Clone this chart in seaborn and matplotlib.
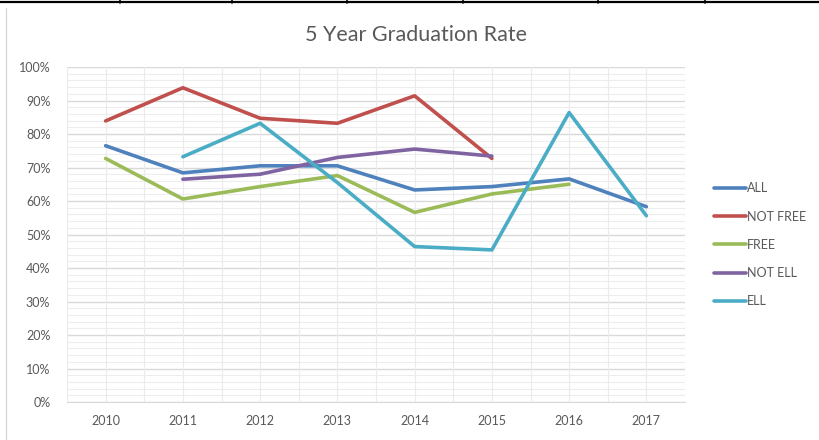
import matplotlib
matplotlib.use('Agg')
import numpy as np
import pandas as pd
from matplotlib import pyplot as plt
from matplotlib.lines import Line2D
import seaborn as sns

years = ['2010', '2011', '2012', '2013', '2014', '2015', '2016', '2017']
series_names = ['ALL', 'NOT FREE', 'FREE', 'NOT ELL', 'ELL']
all_rate = [76.5, 68.4, 70.5, 70.5, 63.3, 64.3, 66.6, 58.3]
not_free = [83.9, 93.8, 84.7, 83.2, 91.4, 72.7, None, None]
free = [72.7, 60.6, 64.3, 67.6, 56.6, 62.1, 65.0, None]
not_ell = [None, 66.5, 68.0, 73.0, 75.5, 73.4, None, None]
ell = [None, 73.2, 83.2, 65.5, 46.4, 45.4, 86.4, 55.6]
colors = ['#4F81BD', '#C0504D', '#9BBB59', '#8064A2', '#4BACC6']

rows = []
for name, vals in zip(series_names, [all_rate, not_free, free, not_ell, ell]):
    for i, v in enumerate(vals):
        if v is not None:
            rows.append({'pos': i, 'rate': v, 'group': name})
df = pd.DataFrame(rows)

sns.set_style('white')
plt.rcParams['font.family'] = ['Lato', 'DejaVu Sans']

fig = plt.figure(figsize=(8.19, 4.40), dpi=100)
ax = fig.add_axes([67 / 819, 38 / 440, 618 / 819, 335 / 440])

# gridlines, excel style
for y in np.arange(0, 101, 2):
    if y % 10 == 0:
        ax.axhline(y, color='#D9D9D9', lw=1.0, zorder=0)
    else:
        ax.axhline(y, color='#EDEDED', lw=0.8, zorder=0)
for x in np.arange(-0.5, len(years), 0.5):
    ax.axvline(x, color='#EBEBEB', lw=0.8, zorder=0)

sns.lineplot(data=df, x='pos', y='rate', hue='group', hue_order=series_names,
             palette=colors, lw=2.6, legend=False, ax=ax, sort=False)

ax.set_xlim(-0.5, len(years) - 0.5)
ax.set_ylim(0, 100)
ax.set_xticks(range(len(years)))
ax.set_xticklabels(years)
ax.set_yticks(range(0, 101, 10))
ax.set_yticklabels([f'{v}%' for v in range(0, 101, 10)])
ax.tick_params(axis='both', length=0, labelsize=9, labelcolor='#595959')
ax.tick_params(axis='x', pad=9)
ax.tick_params(axis='y', pad=12)
ax.set_xlabel('')
ax.set_ylabel('')
for s in ['top', 'right', 'left']:
    ax.spines[s].set_visible(False)
ax.spines['bottom'].set_color('#D9D9D9')

fig.text(416 / 819, 1 - 35 / 440, '5 Year Graduation Rate', ha='center', va='center',
         fontsize=15.5, color='#595959')

handles = [Line2D([0], [0], color=c, lw=2.6) for c in colors]
fig.legend(handles, series_names, loc='upper left', bbox_to_anchor=(703 / 819, 1 - 171 / 440),
           frameon=False, fontsize=9, handlelength=2.5, handletextpad=0.15,
           labelspacing=1.3, labelcolor='#595959')

# outer table border bits
fig.add_artist(Line2D([0, 1], [1 - 2.5 / 440, 1 - 2.5 / 440], color='black', lw=1.6))
for xp in [120, 232, 347, 463, 598, 705]:
    fig.add_artist(Line2D([xp / 819, xp / 819], [1, 1 - 3 / 440], color='black', lw=1.2))
fig.add_artist(Line2D([6 / 819, 6 / 819], [0, 1 - 8 / 440], color='#D0D0D0', lw=0.8))

fig.savefig('out.png', dpi=100)
